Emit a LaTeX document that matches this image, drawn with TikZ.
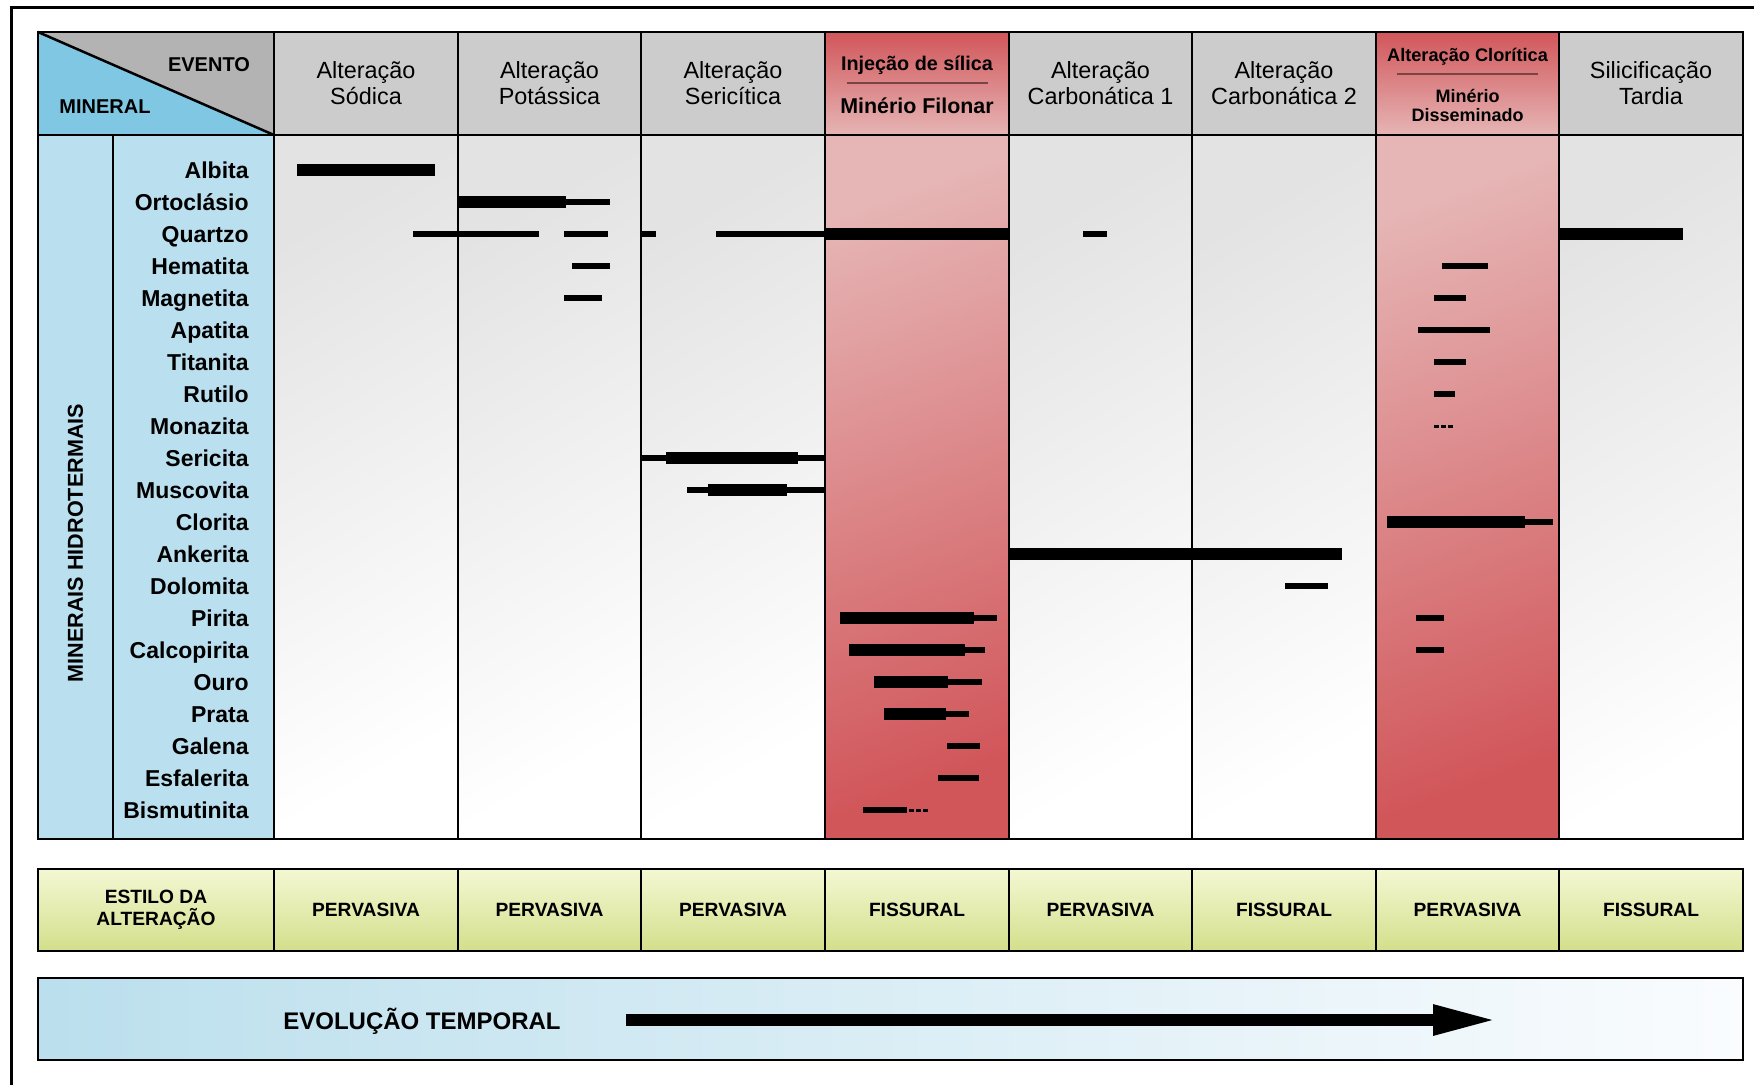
\documentclass[tikz,border=0pt]{standalone}
\usepackage{fontspec}
\setmainfont{Liberation Sans}
\usepackage{tikz}
\usepackage{color}
\usetikzlibrary{arrows.meta}
\definecolor{cinzacab}{HTML}{CCCCCC}
\definecolor{cinzacanto}{HTML}{B3B3B3}
\definecolor{azulcanto}{HTML}{80C7E3}
\definecolor{azulmin}{HTML}{BADFEE}
\definecolor{cinzacorpo}{HTML}{E3E3E3}
\definecolor{vermescuro}{HTML}{D1565A}
\definecolor{vermclaro}{HTML}{E6B5B5}
\definecolor{amarclaro}{HTML}{F4F8D3}
\definecolor{amarescuro}{HTML}{D3DF8B}
\definecolor{azultempo}{HTML}{BBDFED}
\definecolor{brancotempo}{HTML}{FAFCFE}
\definecolor{traco}{HTML}{7A4444}

\begin{document}
\begin{tikzpicture}
[x=0.5pt, y=-0.5pt, grade/.style={line width=1.25pt},
 grossa/.style={line width=5.75pt}, fina/.style={line width=2.75pt},
 pontilhada/.style={line width=1.5pt, dash pattern=on 2.5pt off 1pt},
 corpo/.style={top color=cinzacorpo, bottom color=white, shading angle=30},
 corpover/.style={top color=vermclaro, bottom color=vermescuro, shading angle=20},
 evento/.style={align=center, font=\fontsize{11.7}{13}\selectfont},
 min/.style={anchor=base east, inner sep=0pt, font=\fontsize{11.5}{13}\selectfont\bfseries},
 estilo/.style={align=center, inner sep=0pt, font=\fontsize{9.6}{11}\selectfont\bfseries}]
\useasboundingbox (0,0) rectangle (1754,1084);
\fill[cinzacab] (274,32) rectangle (825,135); \fill[cinzacab] (1009,32) rectangle (1376,135); \fill[cinzacab] (1559,32) rectangle (1743,135);
\shade[top color=vermescuro, bottom color=vermclaro] (825,32) rectangle (1009,135); \shade[top color=vermescuro, bottom color=vermclaro] (1376,32) rectangle (1559,135);
\fill[cinzacanto] (38,32) -- (274,32) -- (274,135) -- cycle; \fill[azulcanto] (38,32) -- (274,135) -- (38,135) -- cycle;
\fill[azulmin] (38,135) rectangle (274,839);
\shade[corpo] (274,135) rectangle (458,839); \shade[corpo] (458,135) rectangle (641,839); \shade[corpo] (641,135) rectangle (825,839);
\shade[corpo] (1009,135) rectangle (1192,839); \shade[corpo] (1192,135) rectangle (1376,839); \shade[corpo] (1559,135) rectangle (1743,839);
\shade[corpover] (825,135) rectangle (1009,839); \shade[corpover] (1376,135) rectangle (1559,839);
\draw[grade] (38,32) rectangle (1743,839); \draw[grade] (38,135) -- (1743,135); \draw[grade] (38,32) -- (274,135); \draw[grade] (113,135) -- (113,839);
\draw[grade] (274,32) -- (274,839) (458,32) -- (458,839) (641,32) -- (641,839) (825,32) -- (825,839) (1009,32) -- (1009,839) (1192,32) -- (1192,839) (1376,32) -- (1376,839) (1559,32) -- (1559,839);
\draw[traco, line width=0.75pt] (847,83) -- (988,83); \draw[traco, line width=0.75pt] (1397,74) -- (1538,74);
\node[font=\fontsize{10}{12}\selectfont\bfseries, anchor=base] (evento) at (209,71) {EVENTO}; \node[font=\fontsize{10}{12}\selectfont\bfseries, anchor=base] (mineral) at (105,113) {MINERAL};
\node[evento] (sodica) at (366,83.5) {Alteração\\Sódica}; \node[evento] (potassica) at (549.5,83.5) {Alteração\\Potássica}; \node[evento] (sericitica) at (733,83.5) {Alteração\\Sericítica};
\node[evento] (carb1) at (1100.5,83.5) {Alteração\\Carbonática 1}; \node[evento] (carb2) at (1284,83.5) {Alteração\\Carbonática 2}; \node[evento] (tardia) at (1651,83.5) {Silicificação\\Tardia};
\node[anchor=base, font=\fontsize{9.9}{12}\selectfont\bfseries] (silica) at (917,70) {Injeção de sílica}; \node[anchor=base, font=\fontsize{10.7}{12}\selectfont\bfseries] (filonar) at (917,113) {Minério Filonar};
\node[anchor=base, font=\fontsize{9.1}{12}\selectfont\bfseries] (cloritica) at (1467.5,61) {Alteração Clorítica}; \node[anchor=base, align=center, font=\fontsize{9}{9.5}\selectfont\bfseries] (disseminado) at (1467.5,121) {Minério\\Disseminado};
\node[rotate=90, font=\fontsize{10.8}{12}\selectfont\bfseries] (hidro) at (75.5,543) {MINERAIS HIDROTERMAIS};
\node[min] (albita) at (249,178) {Albita}; \node[min] (ortoclasio) at (249,210) {Ortoclásio}; \node[min] (quartzo) at (249,242) {Quartzo}; \node[min] (hematita) at (249,274) {Hematita};
\node[min] (magnetita) at (249,306) {Magnetita}; \node[min] (apatita) at (249,338) {Apatita}; \node[min] (titanita) at (249,370) {Titanita}; \node[min] (rutilo) at (249,402) {Rutilo};
\node[min] (monazita) at (249,434) {Monazita}; \node[min] (sericita) at (249,466) {Sericita}; \node[min] (muscovita) at (249,498) {Muscovita}; \node[min] (clorita) at (249,530) {Clorita};
\node[min] (ankerita) at (249,562) {Ankerita}; \node[min] (dolomita) at (249,594) {Dolomita}; \node[min] (pirita) at (249,626) {Pirita}; \node[min] (calcopirita) at (249,658) {Calcopirita};
\node[min] (ouro) at (249,690) {Ouro}; \node[min] (prata) at (249,722) {Prata}; \node[min] (galena) at (249,754) {Galena}; \node[min] (esfalerita) at (249,786) {Esfalerita}; \node[min] (bismutinita) at (249,818) {Bismutinita};
\draw[grossa] (297,170) -- (435,170); \draw[grossa] (458,202) -- (566,202); \draw[fina] (566,202) -- (610,202);
\draw[fina] (413,234) -- (539,234) (564,234) -- (608,234) (641,234) -- (656,234) (716,234) -- (825,234) (1083,234) -- (1107,234); \draw[grossa] (825,234) -- (1009,234) (1559,234) -- (1683,234);
\draw[fina] (572,266) -- (610,266) (1442,266) -- (1488,266); \draw[fina] (564,298) -- (602,298) (1434,298) -- (1466,298);
\draw[fina] (1418,330) -- (1490,330); \draw[fina] (1434,362) -- (1466,362); \draw[fina] (1434,394) -- (1455,394); \draw[pontilhada] (1434,426) -- (1453,426);
\draw[fina] (641,458) -- (666,458) (798,458) -- (825,458); \draw[grossa] (666,458) -- (798,458);
\draw[fina] (687,490) -- (708,490) (787,490) -- (825,490); \draw[grossa] (708,490) -- (787,490);
\draw[grossa] (1387,522) -- (1525,522); \draw[fina] (1525,522) -- (1553,522); \draw[grossa] (1009,554) -- (1342,554); \draw[fina] (1285,586) -- (1328,586);
\draw[grossa] (840,618) -- (974,618); \draw[fina] (974,618) -- (997,618) (1416,618) -- (1444,618);
\draw[grossa] (849,650) -- (965,650); \draw[fina] (965,650) -- (985,650) (1416,650) -- (1444,650);
\draw[grossa] (874,682) -- (948,682); \draw[fina] (948,682) -- (982,682); \draw[grossa] (884,714) -- (946,714); \draw[fina] (946,714) -- (969,714);
\draw[fina] (947,746) -- (980,746); \draw[fina] (938,778) -- (979,778); \draw[fina] (863,810) -- (907,810); \draw[pontilhada] (909,810) -- (929,810);
\shade[top color=amarclaro, bottom color=amarescuro] (38,869) rectangle (1743,951);
\draw[grade] (38,869) rectangle (1743,951) (274,869) -- (274,951) (458,869) -- (458,951) (641,869) -- (641,951) (825,869) -- (825,951) (1009,869) -- (1009,951) (1192,869) -- (1192,951) (1376,869) -- (1376,951) (1559,869) -- (1559,951);
\node[estilo, anchor=base] (estilo) at (156,925) {ESTILO DA\\ALTERAÇÃO};
\node[estilo] (e1) at (366,910) {PERVASIVA}; \node[estilo] (e2) at (549.5,910) {PERVASIVA}; \node[estilo] (e3) at (733,910) {PERVASIVA}; \node[estilo] (e4) at (917,910) {FISSURAL};
\node[estilo] (e5) at (1100.5,910) {PERVASIVA}; \node[estilo] (e6) at (1284,910) {FISSURAL}; \node[estilo] (e7) at (1467.5,910) {PERVASIVA}; \node[estilo] (e8) at (1651,910) {FISSURAL};
\shade[left color=azultempo, right color=brancotempo] (38,978) rectangle (1743,1060); \draw[grade] (38,978) rectangle (1743,1060);
\node[anchor=base, font=\fontsize{12}{14}\selectfont\bfseries] (tempo) at (422,1029) {EVOLUÇÃO TEMPORAL};
\coordinate (t0) at (626,1020); \coordinate (t1) at (1497,1020);
\draw[line width=5.75pt, -{Triangle[length=32pt, width=14pt]}] (t0) -- (t1);
\draw[line width=1.5pt] (11,1090) -- (11,7) -- (1760,7);
\end{tikzpicture}
\end{document}
